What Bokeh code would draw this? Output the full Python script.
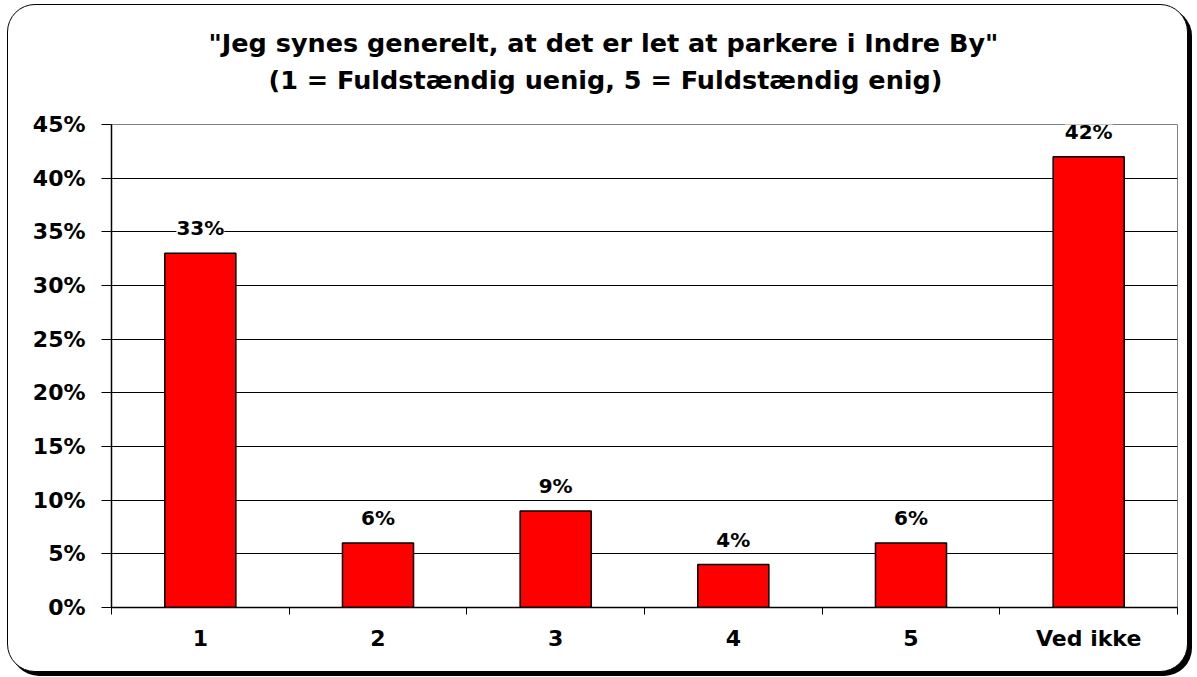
from bokeh.plotting import figure
from bokeh.models import (Range1d, FixedTicker, PrintfTickFormatter, ColumnDataSource,
                          LabelSet, Title)
from bokeh.core.properties import value
from bokeh.embed import file_html
from bokeh.resources import INLINE

# ---- data ----
categories = ["1", "2", "3", "4", "5", "Ved ikke"]
values = [33, 6, 9, 4, 6, 42]
y_ticks = [0, 5, 10, 15, 20, 25, 30, 35, 40, 45]
title_line1 = '"Jeg synes generelt, at det er let at parkere i Indre By"'
title_line2 = "(1 = Fuldstændig uenig, 5 = Fuldstændig enig)"

FONT = "DejaVu Sans"

centers = [i + 0.5 for i in range(len(categories))]
bounds = list(range(len(categories) + 1))
labels = [f"{v}%" for v in values]

src = ColumnDataSource(dict(x=centers, top=values, lab=labels))

p = figure(width=1181, height=668, output_backend="svg", toolbar_location=None,
           x_range=Range1d(0, len(categories)), y_range=Range1d(0, 45),
           min_border_left=103, min_border_right=12, min_border_top=119,
           min_border_bottom=66)
p.title.visible = False
p.styles = {"border": "1.5px solid black", "border-radius": "28px",
            "box-shadow": "4px 4px 0 0 black", "background": "white",
            "margin-left": "7px", "margin-top": "4px"}
p.background_fill_color = "white"
p.border_fill_color = None
p.outline_line_color = "#808080"
p.outline_line_width = 1

p.vbar(x="x", top="top", width=0.4, source=src, fill_color="#FF0000",
       line_color="black", line_width=1.5)

lbl = LabelSet(x="x", y="top", text="lab", source=src, text_align="center",
               text_baseline="alphabetic", y_offset=18, text_font=value(FONT),
               text_font_style="bold", text_font_size="20px", text_color="black",
               background_fill_color="white")
p.add_layout(lbl)

# x axis
xa = p.xaxis[0]
xa.ticker = FixedTicker(ticks=centers, minor_ticks=bounds)
xa.major_label_overrides = {c: cat for c, cat in zip(centers, categories)}
xa.major_tick_line_color = None
xa.major_tick_out = 0
xa.major_tick_in = 0
xa.minor_tick_out = 7
xa.minor_tick_in = 0
xa.minor_tick_line_color = "black"
xa.axis_line_color = "black"
xa.axis_line_width = 1.5
xa.major_label_standoff = 11
xa.major_label_text_font = FONT
xa.major_label_text_font_style = "bold"
xa.major_label_text_font_size = "22px"
xa.major_label_text_color = "black"
p.xgrid.visible = False

# y axis
ya = p.yaxis[0]
ya.ticker = FixedTicker(ticks=y_ticks)
ya.formatter = PrintfTickFormatter(format="%d%%")
ya.major_tick_out = 10
ya.major_tick_in = 0
ya.minor_tick_line_color = None
ya.axis_line_color = "black"
ya.axis_line_width = 1.5
ya.major_label_standoff = 16
ya.major_label_text_font = FONT
ya.major_label_text_font_style = "bold"
ya.major_label_text_font_size = "22px"
ya.major_label_text_color = "black"
p.ygrid.ticker = FixedTicker(ticks=[t for t in y_ticks if 0 < t < max(y_ticks)])
p.ygrid.grid_line_color = "black"
p.ygrid.grid_line_width = 1

t2 = Title(text=title_line2, align="left", offset=157, standoff=59,
           text_font=FONT, text_font_style="bold", text_font_size="25.5px",
           text_color="black")
t1 = Title(text=title_line1, align="left", offset=97, standoff=-48,
           text_font=FONT, text_font_style="bold", text_font_size="25.5px",
           text_color="black")
p.add_layout(t2, "above")
p.add_layout(t1, "above")

open("out.html", "w").write(file_html(p, INLINE))
